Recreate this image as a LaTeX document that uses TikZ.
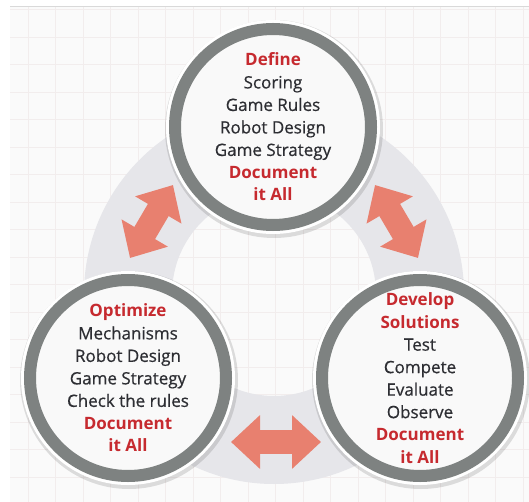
\documentclass[tikz,border=0pt]{standalone}
\usepackage{fontspec}
\setmainfont{Open Sans}
\newfontfamily\stagefont{Open Sans}[FakeBold=0.6]
\usetikzlibrary{arrows.meta}
\definecolor{pagefill}{HTML}{FAFAFA}
\definecolor{gridpink}{HTML}{F2EDED}
\definecolor{ringfill}{HTML}{E6E6EA}
\definecolor{bandgray}{HTML}{7E8281}
\definecolor{innerfill}{HTML}{F9F9F9}
\definecolor{textdark}{HTML}{2D2E33}
\definecolor{headred}{HTML}{C62A2F}
\definecolor{arrowsalmon}{HTML}{E8806F}
\newcommand{\stagehead}[1]{{\color{headred}\fontfamily{\familydefault}\bfseries #1}}
\begin{document}
\begin{tikzpicture}[x=1pt,y=-1pt]
\tikzset{
  stage/.style={circle,draw=bandgray,line width=12pt,fill=innerfill,minimum size=196pt,inner sep=0pt,
    align=center,text=textdark,font=\stagefont\fontsize{17}{22.5}\selectfont,
    preaction={draw=black,opacity=0.12,line width=22pt,transform canvas={shift={(1pt,-2pt)}}},
    preaction={draw=white,line width=18pt}},
  bothway/.style={draw=arrowsalmon,line width=24pt,{Triangle[width=52pt,length=29pt]}-{Triangle[width=52pt,length=29pt]}}
}
\useasboundingbox (0,0) rectangle (529,502);
\fill[pagefill] (0,0) rectangle (529,502);
\foreach \x in {0.5,28,...,529} \draw[gridpink,line width=0.8pt] (\x,6) -- (\x,502);
\foreach \y in {9.5,37,...,502} \draw[gridpink,line width=0.8pt] (10,\y) -- (529,\y);
\fill[white] (0,0) rectangle (529,6);
\fill[white] (0,0) rectangle (10,502);
\draw[black!15] (10,6) -- (529,6);

\coordinate (hub) at (274,294);
\fill[ringfill,even odd rule] (hub) circle[radius=190] (hub) circle[radius=102];

\node[stage] (define) at (273,127) {\stagehead{Define}\\Scoring\\Game Rules\\Robot Design\\Game Strategy\\\stagehead{Document}\\\stagehead{it All}};
\node[stage] (optimize) at (128,378) {\stagehead{Optimize}\\Mechanisms\\Robot Design\\Game Strategy\\Check the rules\\\stagehead{Document}\\\stagehead{it All}};
\node[stage] (develop) at (420,378) {\stagehead{Develop}\\\stagehead{Solutions}\\Test\\Compete\\Evaluate\\Observe\\\stagehead{Document}\\\stagehead{it All}};

\coordinate (leftlow) at (130,258);
\coordinate (lefthigh) at (173,185);
\coordinate (righthigh) at (375,185);
\coordinate (rightlow) at (418,258);
\coordinate (bottomleft) at (231,442);
\coordinate (bottomright) at (321,442);
\draw[bothway] (leftlow) -- (lefthigh);
\draw[bothway] (righthigh) -- (rightlow);
\draw[bothway] (bottomleft) -- (bottomright);
\end{tikzpicture}
\end{document}
